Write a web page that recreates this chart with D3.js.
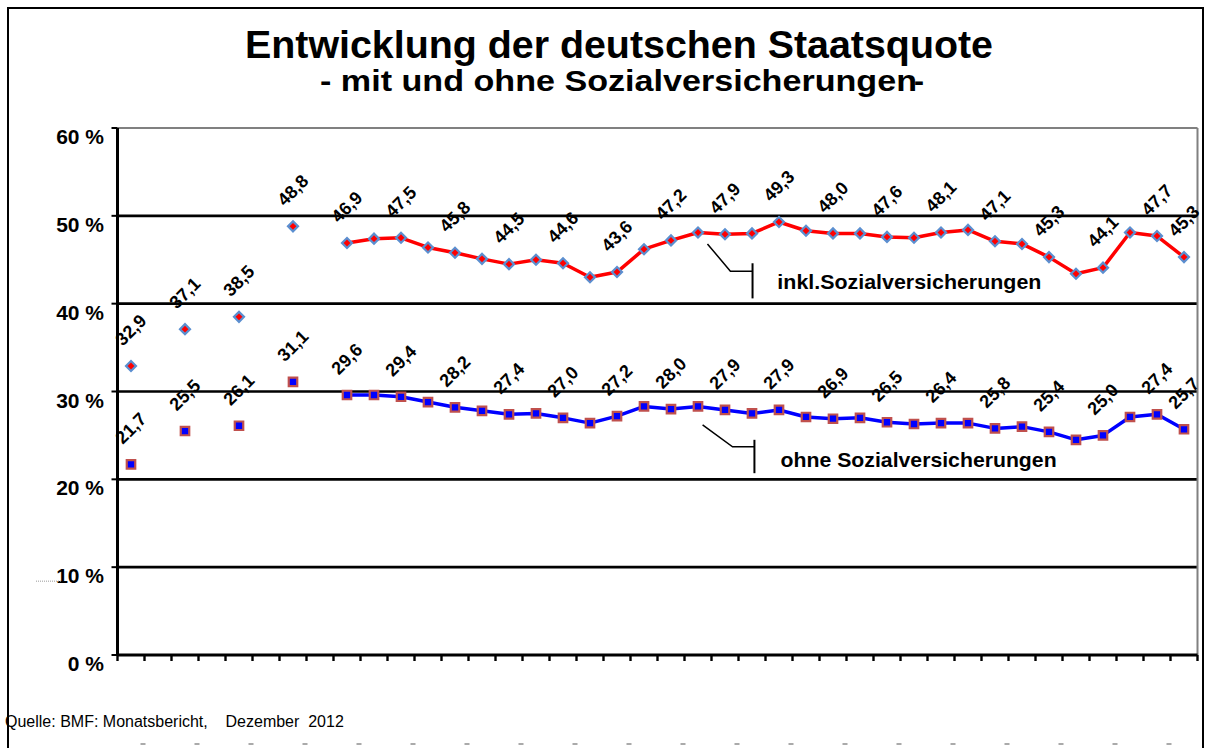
<!DOCTYPE html>
<html lang="de">
<head>
<meta charset="utf-8">
<title>Entwicklung der deutschen Staatsquote</title>
<script src="https://cdn.jsdelivr.net/npm/d3@7/dist/d3.min.js"></script>
<style>
  body { margin: 0; background: #fff; }
  svg text { font-family: "Liberation Sans", Arial, sans-serif; }
</style>
</head>
<body>
<div id="chart"></div>
<script>
  // one slot per category; before 1980 only every 5th year, with an empty slot between
  const years = [1960, null, 1965, null, 1970, null, 1975, null,
    1980, 1981, 1982, 1983, 1984, 1985, 1986, 1987, 1988, 1989,
    1990, 1991, 1992, 1993, 1994, 1995, 1996, 1997, 1998, 1999,
    2000, 2001, 2002, 2003, 2004, 2005, 2006, 2007, 2008, 2009, 2010, 2011];

  // Staatsquote inkl. Sozialversicherungen (%)
  const inkl = [32.9, null, 37.1, null, 38.5, null, 48.8, null,
    46.9, 47.4, 47.5, 46.4, 45.8, 45.1, 44.5, 45.0, 44.6, 43.0, 43.6, 46.2,
    47.2, 48.1, 47.9, 48.0, 49.3, 48.3, 48.0, 48.0, 47.6, 47.5,
    48.1, 48.4, 47.1, 46.8, 45.3, 43.4, 44.1, 48.1, 47.7, 45.3];

  // Staatsquote ohne Sozialversicherungen (%)
  const ohne = [21.7, null, 25.5, null, 26.1, null, 31.1, null,
    29.6, 29.6, 29.4, 28.8, 28.2, 27.8, 27.4, 27.5, 27.0, 26.4, 27.2, 28.3,
    28.0, 28.3, 27.9, 27.5, 27.9, 27.1, 26.9, 27.0, 26.5, 26.3,
    26.4, 26.4, 25.8, 26.0, 25.4, 24.5, 25.0, 27.1, 27.4, 25.7];

  // slots that carry a value label
  const labelled = [0, 2, 4, 6, 8, 10, 12, 14, 16, 18, 20, 22, 24, 26, 28, 30, 32, 34, 36, 38, 39];

  const yTicks = [0, 10, 20, 30, 40, 50, 60];

  const W = 1205, H = 748;
  const plot = { left: 117.5, right: 1197.5, top: 128, bottom: 655 };

  const svg = d3.select("#chart").append("svg")
    .attr("width", W).attr("height", H);

  // outer frame
  svg.append("rect")
    .attr("x", 8).attr("y", 8).attr("width", 1195).attr("height", 800)
    .attr("fill", "none").attr("stroke", "#000").attr("stroke-width", 2);

  // title
  svg.append("text")
    .attr("x", 245).attr("y", 58)
    .attr("textLength", 748).attr("lengthAdjust", "spacingAndGlyphs")
    .style("font-size", "38px").style("font-weight", "bold")
    .text("Entwicklung der deutschen Staatsquote");
  svg.append("text")
    .attr("x", 320).attr("y", 91)
    .attr("textLength", 597).attr("lengthAdjust", "spacingAndGlyphs")
    .style("font-size", "30px").style("font-weight", "bold")
    .text("- mit und ohne Sozialversicherungen");
  svg.append("text")
    .attr("x", 914).attr("y", 91)
    .style("font-size", "30px").style("font-weight", "bold")
    .text("-");

  // scales
  const xs = d3.scaleLinear().domain([0, years.length]).range([plot.left, plot.right]);
  const cx = i => xs(i + 0.5);
  const y = d3.scaleLinear().domain([0, 60]).range([plot.bottom, plot.top]);

  // gridlines
  svg.append("g").selectAll("line")
    .data(yTicks.filter(t => t > 0 && t < 60))
    .enter().append("line")
    .attr("x1", plot.left).attr("x2", plot.right)
    .attr("y1", d => y(d)).attr("y2", d => y(d))
    .attr("stroke", "#000").attr("stroke-width", 2.6);

  // plot area border (top and right gray)
  svg.append("line")
    .attr("x1", plot.left).attr("x2", plot.right)
    .attr("y1", y(60)).attr("y2", y(60))
    .attr("stroke", "#808080").attr("stroke-width", 2);
  svg.append("line")
    .attr("x1", plot.right).attr("x2", plot.right)
    .attr("y1", y(60)).attr("y2", y(0))
    .attr("stroke", "#808080").attr("stroke-width", 2);

  // y axis
  svg.append("line")
    .attr("x1", plot.left).attr("x2", plot.left)
    .attr("y1", y(60)).attr("y2", y(0))
    .attr("stroke", "#000").attr("stroke-width", 3);
  svg.append("g").selectAll("line")
    .data(yTicks)
    .enter().append("line")
    .attr("x1", plot.left - 6).attr("x2", plot.left)
    .attr("y1", d => y(d)).attr("y2", d => y(d))
    .attr("stroke", "#000").attr("stroke-width", 2);
  svg.append("g").selectAll("text")
    .data(yTicks)
    .enter().append("text")
    .attr("x", 104).attr("y", d => y(d) + 16)
    .attr("text-anchor", "end")
    .style("font-size", "21px").style("font-weight", "bold")
    .text(d => d + " %");
  // little dotted stub next to 10 %
  svg.append("line")
    .attr("x1", 36).attr("x2", 62)
    .attr("y1", y(10) + 14).attr("y2", y(10) + 14)
    .attr("stroke", "#999").attr("stroke-width", 1)
    .attr("stroke-dasharray", "1,1");

  // x axis
  svg.append("line")
    .attr("x1", plot.left).attr("x2", plot.right)
    .attr("y1", y(0)).attr("y2", y(0))
    .attr("stroke", "#000").attr("stroke-width", 3);
  svg.append("g").selectAll("line")
    .data(d3.range(years.length + 1))
    .enter().append("line")
    .attr("x1", d => xs(d)).attr("x2", d => xs(d))
    .attr("y1", y(0)).attr("y2", y(0) + 6)
    .attr("stroke", "#000").attr("stroke-width", 2.4);

  // cut-off year labels at the bottom edge, only their tops remain visible
  svg.append("g").selectAll("rect")
    .data(d3.range(1, years.length, 2))
    .enter().append("rect")
    .attr("x", d => xs(d) - 4).attr("y", 743)
    .attr("width", 5).attr("height", 2)
    .attr("fill", "#aaa");

  // series
  const series = [
    { values: inkl, line: "#ff0000", fill: "#ff0000", stroke: "#5b8fd0", symbol: "diamond" },
    { values: ohne, line: "#0000ff", fill: "#0000ff", stroke: "#c0504d", symbol: "square" }
  ];

  const lineGen = d3.line()
    .defined(d => d.v != null)
    .x(d => cx(d.i))
    .y(d => y(d.v));

  series.forEach(s => {
    const pts = s.values.map((v, i) => ({ i: i, v: v }));
    svg.append("path")
      .datum(pts)
      .attr("d", lineGen)
      .attr("fill", "none")
      .attr("stroke", s.line)
      .attr("stroke-width", 3.5)
      .attr("stroke-linejoin", "round");

    const sym = d3.symbol().type(d3.symbolSquare).size(s.symbol === "diamond" ? 50 : 72);
    svg.append("g").selectAll("path")
      .data(pts.filter(d => d.v != null))
      .enter().append("path")
      .attr("d", sym)
      .attr("transform", d => "translate(" + cx(d.i) + "," + y(d.v) + ")" +
        (s.symbol === "diamond" ? " rotate(45)" : ""))
      .attr("fill", s.fill)
      .attr("stroke", s.stroke)
      .attr("stroke-width", 2.2);
  });

  // value labels, rotated
  const fmt = v => d3.format(".1f")(v).replace(".", ",");
  series.forEach(s => {
    svg.append("g").selectAll("text")
      .data(labelled)
      .enter().append("text")
      .attr("transform", i => "translate(" + cx(i) + "," + (y(s.values[i]) - 36) + ") rotate(-45)")
      .attr("text-anchor", "middle")
      .attr("dominant-baseline", "central")
      .style("font-size", "18px").style("font-weight", "bold")
      .text(i => fmt(s.values[i]));
  });

  // series names with leader lines
  const notes = [
    { text: "inkl.Sozialversicherungen", len: 264, path: [[21.85, 46.8], [22.7, 43.7], [23.52, 43.7]],
      bar: [23.52, 44.6, 40.6], at: [24.44, 41.7] },
    { text: "ohne Sozialversicherungen", len: 276, path: [[21.67, 26.2], [22.78, 23.7], [23.59, 23.7]],
      bar: [23.59, 24.5, 20.7], at: [24.56, 21.4] }
  ];
  notes.forEach(n => {
    svg.append("path")
      .attr("d", d3.line().x(p => xs(p[0])).y(p => y(p[1]))(n.path))
      .attr("fill", "none").attr("stroke", "#000").attr("stroke-width", 1.5);
    svg.append("line")
      .attr("x1", xs(n.bar[0])).attr("x2", xs(n.bar[0]))
      .attr("y1", y(n.bar[1])).attr("y2", y(n.bar[2]))
      .attr("stroke", "#000").attr("stroke-width", 2);
    svg.append("text")
      .attr("x", xs(n.at[0])).attr("y", y(n.at[1]))
      .attr("textLength", n.len).attr("lengthAdjust", "spacingAndGlyphs")
      .style("font-size", "21px").style("font-weight", "bold")
      .text(n.text);
  });

  // source
  svg.append("text")
    .attr("x", 5).attr("y", 727)
    .style("font-size", "16px")
    .style("white-space", "pre")
    .text("Quelle: BMF: Monatsbericht,    Dezember  2012");
</script>
</body>
</html>
